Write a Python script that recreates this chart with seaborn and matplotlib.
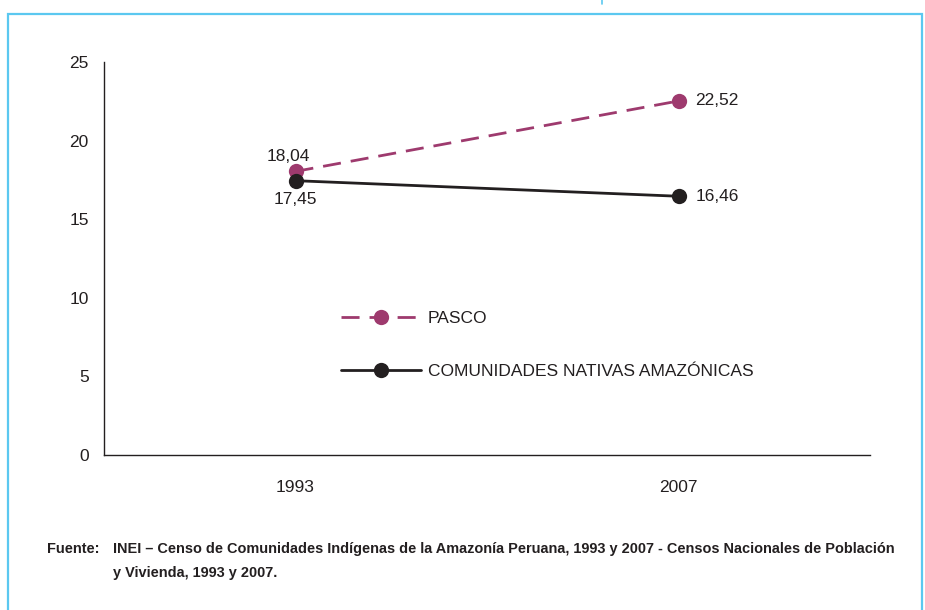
import matplotlib
matplotlib.use("Agg")
import matplotlib.pyplot as plt
import seaborn as sns
import pandas as pd
from matplotlib.patches import Rectangle
from matplotlib.lines import Line2D

years = ["1993", "2007"]
pasco = [18.04, 22.52]
comunidades = [17.45, 16.46]
series_names = ["PASCO", "COMUNIDADES NATIVAS AMAZÓNICAS"]
y_ticks = [0, 5, 10, 15, 20, 25]
source_label = "Fuente:"
source_lines = ["INEI – Censo de Comunidades Indígenas de la Amazonía Peruana, 1993 y 2007 - Censos Nacionales de Población",
                "y Vivienda, 1993 y 2007."]

sns.set_theme(style="white")
plt.rcParams['font.family'] = ['Liberation Sans', 'DejaVu Sans']

PLUM = "#9E3A6E"
BLACK = "#231F20"
BLUE = "#5BC8F0"

df = pd.DataFrame({
    "year": years * 2,
    "value": pasco + comunidades,
    "serie": [series_names[0]] * 2 + [series_names[1]] * 2,
})

fig = plt.figure(figsize=(9.25, 6.1), dpi=100)
ax = fig.add_axes([104/925, 1-455/610, (870-104)/925, (455-62)/610])

sns.lineplot(data=df, x="year", y="value", hue="serie", style="serie",
             palette={series_names[0]: PLUM, series_names[1]: BLACK},
             dashes={series_names[0]: (6.5, 3.6), series_names[1]: ""},
             markers={series_names[0]: "o", series_names[1]: "o"},
             markersize=11, markeredgewidth=0, linewidth=2, ax=ax, legend=False,
             sort=False)

ax.set_xlim(-0.5, 1.5)
ax.set_ylim(0, 25)
ax.set_yticks(y_ticks)
ax.set_yticklabels([str(t) for t in y_ticks])
ax.set_xlabel("")
ax.set_ylabel("")
ax.tick_params(axis="both", length=0, labelsize=12.5, colors="#231F20")
ax.tick_params(axis="y", pad=11)
ax.tick_params(axis="x", pad=18)
for s in ["top", "right"]:
    ax.spines[s].set_visible(False)
for s in ["left", "bottom"]:
    ax.spines[s].set_color(BLACK)
    ax.spines[s].set_linewidth(1.0)

def fmt(v):
    return f"{v:.2f}".replace(".", ",")

lab_kw = dict(fontsize=12.5, color=BLACK)
ax.annotate(fmt(pasco[0]), (0, pasco[0]), xytext=(-5, 5), textcoords="offset points",
            ha="center", va="bottom", **lab_kw)
ax.annotate(fmt(comunidades[0]), (0, comunidades[0]), xytext=(0, -8), textcoords="offset points",
            ha="center", va="top", **lab_kw)
ax.annotate(fmt(pasco[1]), (1, pasco[1]), xytext=(12, 0), textcoords="offset points",
            ha="left", va="center", **lab_kw)
ax.annotate(fmt(comunidades[1]), (1, comunidades[1]), xytext=(12, 0), textcoords="offset points",
            ha="left", va="center", **lab_kw)

handles = [
    Line2D([], [], color=PLUM, lw=2, dashes=(6.5, 3.6), marker="o", markersize=11, markeredgewidth=0),
    Line2D([], [], color=BLACK, lw=2, marker="o", markersize=11, markeredgewidth=0),
]
leg = ax.legend(handles, series_names, loc="upper left",
                bbox_to_anchor=((334-104)/766, (455-304)/393),
                frameon=False, fontsize=12.5, handlelength=4.6, handletextpad=0.4,
                labelspacing=2.2, borderaxespad=0)
for t in leg.get_texts():
    t.set_color(BLACK)

# frame
fig.add_artist(Rectangle((8/925, -0.05), (922-8)/925, 1.05 - 14/610,
                         transform=fig.transFigure, fill=False, edgecolor=BLUE, lw=1.6))
fig.add_artist(Line2D([602/925, 602/925], [1.0, 1-4/610], transform=fig.transFigure, color=BLUE, lw=1.2))

foot_font = ['Liberation Sans Narrow', 'Liberation Sans', 'DejaVu Sans']
foot_kw = dict(fontsize=10.45, fontweight="bold", family=foot_font, color=BLACK, va="baseline", ha="left")
fig.text(47/925, 1-553/610, source_label, **foot_kw)
fig.text(113/925, 1-553/610, source_lines[0], **foot_kw)
fig.text(113/925, 1-577/610, source_lines[1], **foot_kw)

fig.savefig("out.png", dpi=100)
